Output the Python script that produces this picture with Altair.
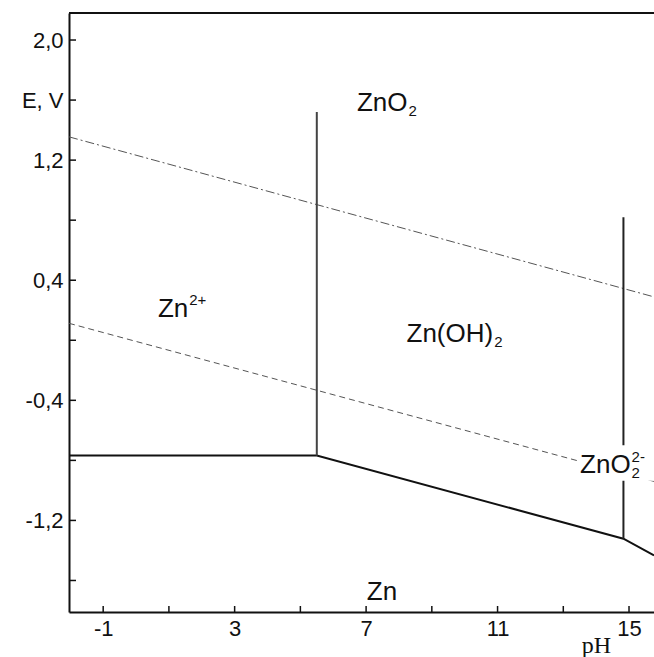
import altair as alt
import pandas as pd

# ---------------- data ----------------
ph_ticks = [-1, 1, 3, 5, 7, 9, 11, 13, 15]
ph_tick_text = ["-1", "", "3", "", "7", "", "11", "", "15"]
e_ticks = [2.0, 1.6, 1.2, 0.8, 0.4, 0.0, -0.4, -0.8, -1.2, -1.6]
e_tick_text = ["2,0", "E, V", "1,2", "", "0,4", "", "-0,4", "", "-1,2", ""]

# solid lower boundary Zn2+/Zn(OH)2/ZnO2^2- | Zn
lower_ph = [-2.04, 5.5, 14.83, 15.76]
lower_e = [-0.767, -0.767, -1.322, -1.433]
# vertical boundaries
v1_ph = [5.5, 5.5]
v1_e = [-0.767, 1.52]
v2_ph = [14.83, 14.83]
v2_e = [-1.322, 0.82]
# water stability lines
o2_ph = [-2.04, 15.76]
o2_e = [1.355, 0.289]
h2_ph = [-2.04, 15.76]
h2_e = [0.113, -0.94]

# region labels: (text, pH, E)
lab_text = ["ZnO", "Zn", "Zn(OH)", "ZnO", "Zn"]
lab_ph = [6.72, 0.665, 8.23, 13.51, 7.02]
lab_e = [1.527, 0.153, -0.011, -0.885, -1.727]

PH_DOMAIN = [-2.04, 15.76]
E_DOMAIN = [-1.81, 2.18]
W, H = 585, 599
FONT = "Liberation Sans"
FS = 26
SFS = 15

xs = alt.Scale(domain=PH_DOMAIN, nice=False, zero=False)
ys = alt.Scale(domain=E_DOMAIN, nice=False, zero=False)


def build_expr(values, texts):
    expr = "''"
    for v, t in reversed(list(zip(values, texts))):
        expr = f"abs(datum.value - ({v})) < 0.001 ? '{t}' : ({expr})"
    return expr


x_axis = alt.Axis(values=ph_ticks, labelExpr=build_expr(ph_ticks, ph_tick_text),
                  title="pH", titleFont="Liberation Serif", titleFontSize=24,
                  titleFontWeight="normal", titleColor="#111",
                  titleX=527, titleY=40, titleBaseline="alphabetic", titleAlign="center",
                  ticks=False, tickSize=0, grid=False, domainColor="#111", domainWidth=2,
                  labelFont=FONT, labelFontSize=22, labelColor="#111", labelPadding=6,
                  labelFlush=False, labelOverlap=False)
y_axis = alt.Axis(values=e_ticks, labelExpr=build_expr(e_ticks, e_tick_text),
                  title=None, ticks=False, tickSize=0, grid=False, domainColor="#111",
                  domainWidth=2, labelFont=FONT, labelFontSize=22, labelColor="#111",
                  labelPadding=6, labelFlush=False, labelOverlap=False)


def seg(ph, e):
    return pd.DataFrame({"ph": ph, "e": e, "i": list(range(len(ph)))})


def line_layer(df, **mk):
    return alt.Chart(df).mark_line(clip=True, **mk).encode(
        x=alt.X("ph:Q", scale=xs, axis=x_axis),
        y=alt.Y("e:Q", scale=ys, axis=y_axis),
        order="i:O",
    )


o2 = line_layer(seg(o2_ph, o2_e), color="#555", strokeWidth=1, strokeDash=[9, 3, 2, 3])
h2 = line_layer(seg(h2_ph, h2_e), color="#555", strokeWidth=1, strokeDash=[6, 4])
lower = line_layer(seg(lower_ph, lower_e), color="#111", strokeWidth=2)
v1 = line_layer(seg(v1_ph, v1_e), color="#444", strokeWidth=2)
v2 = line_layer(seg(v2_ph, v2_e), color="#222", strokeWidth=2)

# white box behind the ZnO2^2- label
box = alt.Chart(pd.DataFrame({"a": [13.42], "b": [15.76], "c": [-0.70], "d": [-0.935]})).mark_rect(
    color="white").encode(
    x=alt.X("a:Q", scale=xs, axis=x_axis), x2="b:Q",
    y=alt.Y("c:Q", scale=ys, axis=y_axis), y2="d:Q")

labels_df = pd.DataFrame({"t": lab_text, "ph": lab_ph, "e": lab_e})


def text_layer(df, size, dx=0, dy=0):
    return alt.Chart(df).mark_text(font=FONT, fontSize=size, color="#111", align="left",
                                   baseline="alphabetic", dx=dx, dy=dy).encode(
        x=alt.X("ph:Q", scale=xs, axis=x_axis),
        y=alt.Y("e:Q", scale=ys, axis=y_axis),
        text="t:N")


main_text = text_layer(labels_df, FS)


def small(i, t, dx, dy):
    d = pd.DataFrame({"t": [t], "ph": [lab_ph[i]], "e": [lab_e[i]]})
    return text_layer(d, SFS, dx, dy)


w_ZnO = FS * (0.611 + 0.556 + 0.778) + 1
w_Zn = FS * (0.611 + 0.556) + 1
w_ZnOH = FS * (0.611 + 0.556 + 0.333 + 0.778 + 0.722 + 0.333) + 1
subs = [
    small(0, "2", w_ZnO, 5),
    small(1, "2+", w_Zn, -12),
    small(2, "2", w_ZnOH, 5),
    small(3, "2", w_ZnO, 5),
    small(3, "2-", w_ZnO, -11),
]

# inward tick marks
xt = alt.Chart(pd.DataFrame({"ph": ph_ticks})).mark_rule(color="#111", strokeWidth=1.5).encode(
    x=alt.X("ph:Q", scale=xs, axis=x_axis), y=alt.value(H), y2=alt.value(H - 6))
yt = alt.Chart(pd.DataFrame({"e": e_ticks})).mark_rule(color="#111", strokeWidth=1.5).encode(
    y=alt.Y("e:Q", scale=ys, axis=y_axis), x=alt.value(0), x2=alt.value(7))
top = alt.Chart(pd.DataFrame({"k": [0]})).mark_rule(color="#111", strokeWidth=2).encode(
    x=alt.value(0), x2=alt.value(W), y=alt.value(0))

chart = alt.layer(o2, h2, lower, v1, v2, box, main_text, *subs, xt, yt, top).properties(
    width=W, height=H,
    autosize=alt.AutoSizeParams(type="none"),
    padding={"left": 69, "top": 13, "right": 0, "bottom": 45},
    background="white",
).configure_view(stroke="transparent")

chart.save("out.html", embed_options={"renderer": "svg", "actions": False})
